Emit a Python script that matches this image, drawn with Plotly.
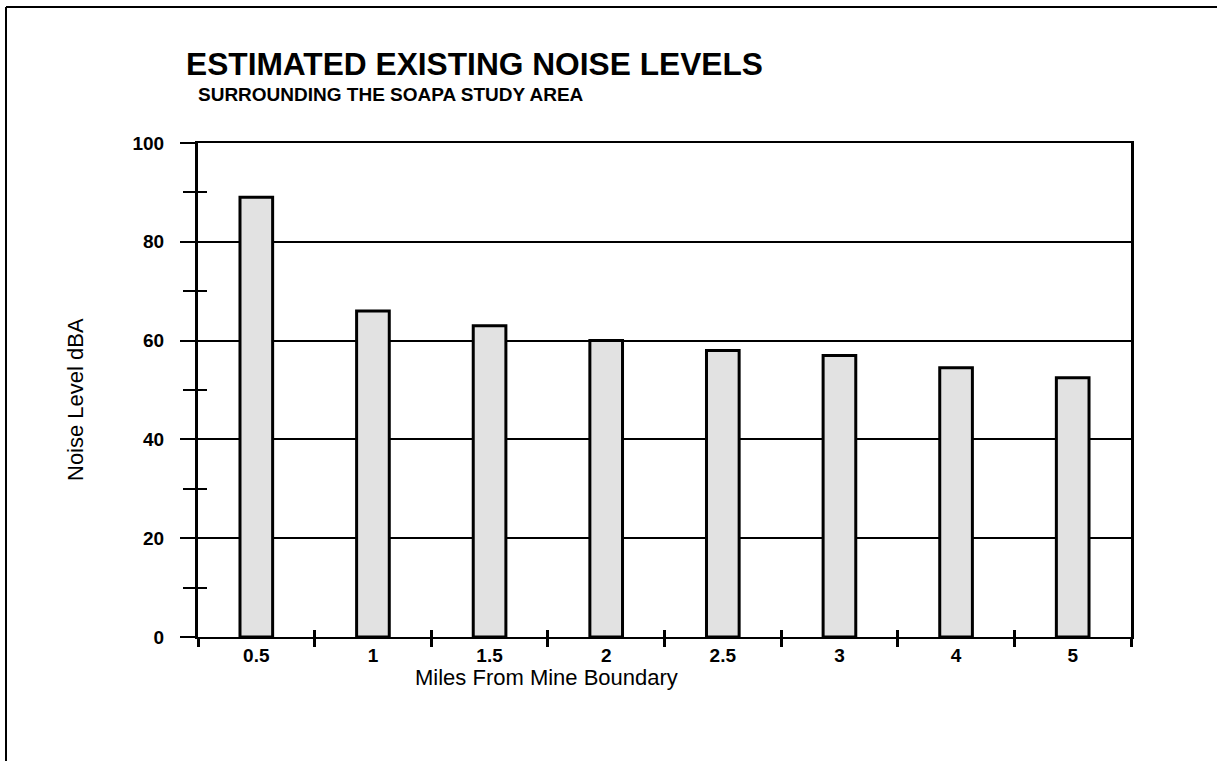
import plotly.graph_objects as go

categories = ["0.5", "1", "1.5", "2", "2.5", "3", "4", "5"]
noise_dba = [89, 66, 63, 60, 58, 57, 54.5, 52.5]
y_major = [0, 20, 40, 60, 80, 100]
y_minor = [10, 30, 50, 70, 90]

FONT = "Liberation Sans, Arial, sans-serif"

fig = go.Figure()
fig.add_trace(go.Bar(
    x=categories, y=noise_dba, width=0.28,
    marker=dict(color="#e2e2e2", line=dict(color="black", width=3)),
    hoverinfo="skip", showlegend=False,
))
# helper invisible trace to activate overlay axes for crossing ticks
fig.add_trace(go.Scatter(
    x=categories, y=noise_dba, xaxis="x2", yaxis="y2", mode="markers",
    marker=dict(opacity=0, size=1), hoverinfo="skip", showlegend=False,
))

fig.update_layout(
    width=1217, height=761,
    paper_bgcolor="white", plot_bgcolor="white",
    margin=dict(l=198, r=86, t=143, b=124),
    font=dict(family=FONT, color="black"),
    xaxis=dict(
        type="category", range=[-0.5, 7.5],
        showline=True, linecolor="black", linewidth=2, mirror=True,
        ticks="outside", tickson="boundaries", ticklen=8, tickwidth=3, tickcolor="black",
        showgrid=False, zeroline=False,
        tickfont=dict(size=19, weight="bold", family=FONT),
    ),
    xaxis2=dict(
        type="category", range=[-0.5, 7.5], overlaying="x", anchor="y",
        ticks="inside", tickson="boundaries", ticklen=7, tickwidth=3, tickcolor="black",
        showticklabels=False, showgrid=False, zeroline=False, showline=False,
    ),
    yaxis=dict(
        range=[0, 100], tickvals=y_major,
        showline=True, linecolor="black", linewidth=3, mirror=True,
        ticks="outside", ticklen=15, tickwidth=2, tickcolor="black",
        minor=dict(tickvals=y_minor, ticks="outside", ticklen=12, tickwidth=2,
                   tickcolor="black", showgrid=False),
        showgrid=True, gridcolor="black", gridwidth=2, zeroline=False,
        ticklabelstandoff=12,
        tickfont=dict(size=19, weight="bold", family=FONT),
    ),
    yaxis2=dict(
        range=[0, 100], overlaying="y", anchor="x", side="left",
        tickvals=y_minor, ticks="inside", ticklen=9, tickwidth=2, tickcolor="black",
        showticklabels=False, showgrid=False, zeroline=False, showline=False,
    ),
    annotations=[
        dict(text="ESTIMATED EXISTING NOISE LEVELS", xref="paper", yref="paper",
             x=(184 - 198) / 933, y=(637 - 64) / 494, xanchor="left", yanchor="middle",
             showarrow=False, font=dict(size=31.7, weight="bold", family=FONT)),
        dict(text="SURROUNDING THE SOAPA STUDY AREA", xref="paper", yref="paper",
             x=(196 - 198) / 933, y=(637 - 95) / 494, xanchor="left", yanchor="middle",
             showarrow=False, font=dict(size=19, weight="bold", family=FONT)),
        dict(text="Miles From Mine Boundary", xref="paper", yref="paper",
             x=(546 - 198) / 933, y=(637 - 677) / 494, xanchor="center", yanchor="middle",
             showarrow=False, font=dict(size=22, family=FONT)),
        dict(text="Noise Level dBA", xref="paper", yref="paper", textangle=-90,
             x=(75 - 198) / 933, y=(637 - 400) / 494, xanchor="center", yanchor="middle",
             showarrow=False, font=dict(size=22, family=FONT)),
    ],
    shapes=[
        dict(type="line", xref="paper", yref="paper",
             x0=(6 - 198) / 933, x1=(1217 - 198) / 933, y0=(637 - 7) / 494, y1=(637 - 7) / 494,
             line=dict(color="black", width=2)),
        dict(type="line", xref="paper", yref="paper",
             x0=(6 - 198) / 933, x1=(6 - 198) / 933, y0=(637 - 7) / 494, y1=(637 - 761) / 494,
             line=dict(color="black", width=2)),
    ],
)

fig.write_html(
    "out.html",
    config={"displayModeBar": False},
    post_script="document.body.style.margin='0';document.body.style.overflow='hidden';",
)
